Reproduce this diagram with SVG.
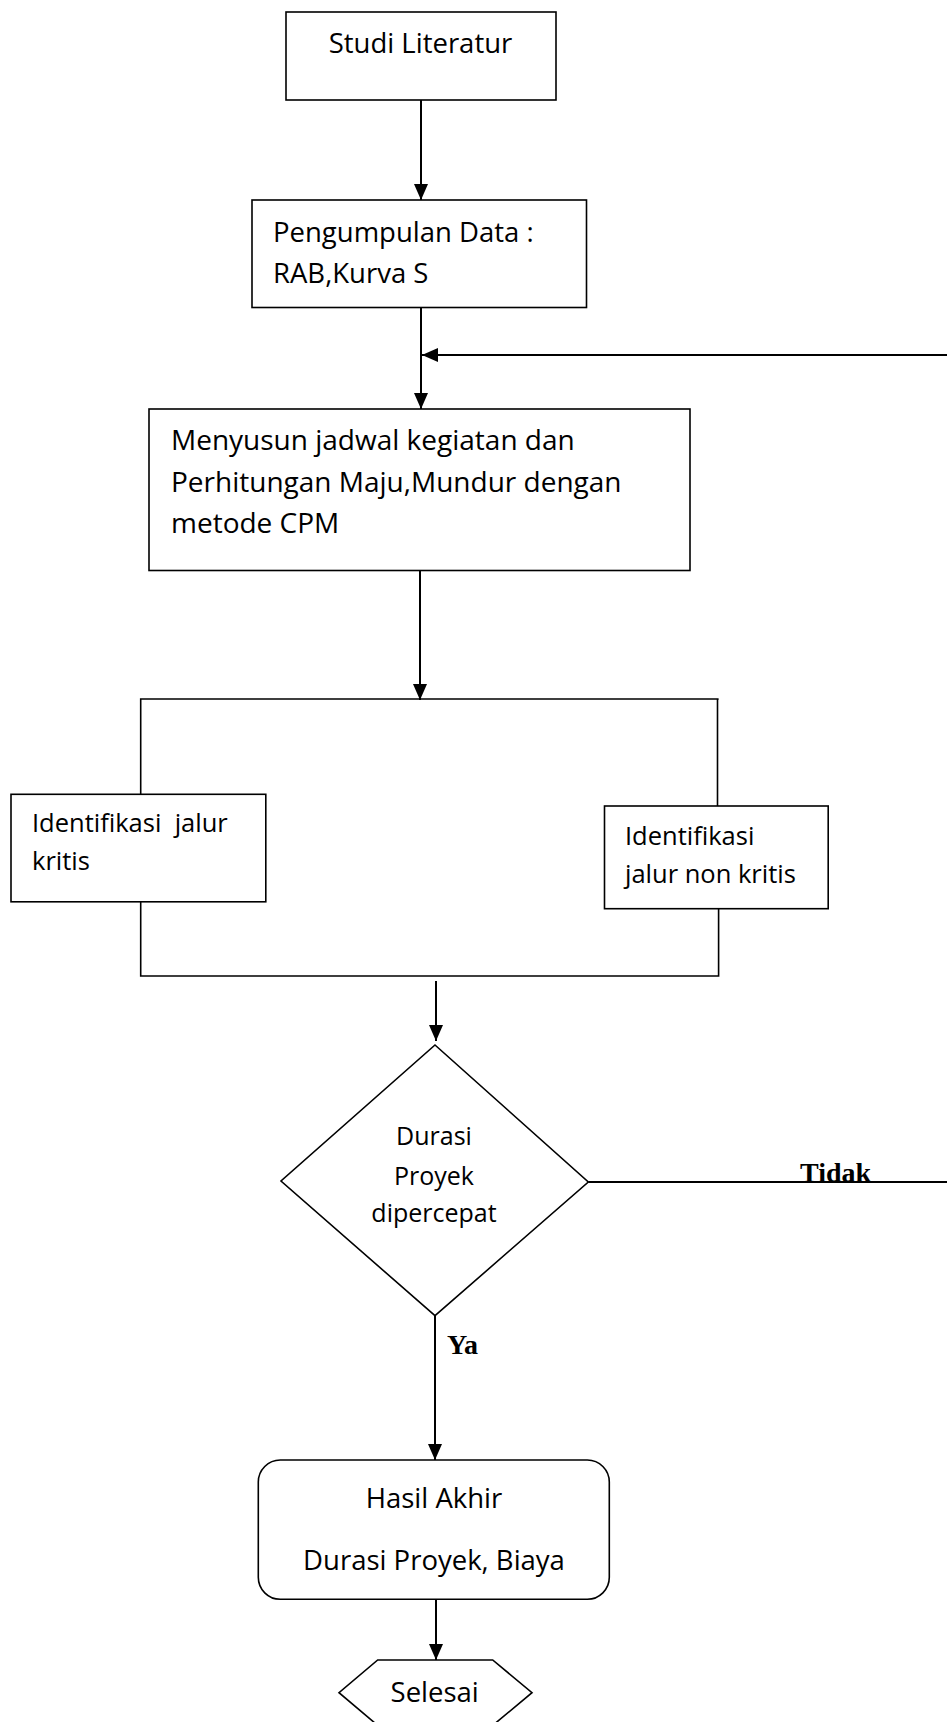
<svg xmlns="http://www.w3.org/2000/svg" width="947" height="1722" viewBox="0 0 947 1722">
<style>
.box{fill:#fff;stroke:#000;stroke-width:1.6}
.t{font-family:"Open Sans","Noto Sans",sans-serif;font-size:27.5px;fill:#000}
.m{font-family:"Open Sans","Noto Sans",sans-serif;font-size:28px;fill:#000}
.s{font-family:"Open Sans","Noto Sans",sans-serif;font-size:25px;fill:#000}
.k{font-family:"Open Sans","Noto Sans",sans-serif;font-size:25.5px;fill:#000}
.b{font-family:"Liberation Serif",serif;font-size:28px;font-weight:bold;fill:#000}
.c{fill:none;stroke:#000;stroke-width:2}
.j{fill:none;stroke:#000;stroke-width:1.6}
</style>
<defs>
<marker id="ah" markerUnits="userSpaceOnUse" markerWidth="17" markerHeight="15" refX="16" refY="7" orient="auto">
<path d="M0,0 L16,7 L0,14 z" fill="#000"/>
</marker>
</defs>
<rect width="947" height="1722" fill="#fff"/>
<g id="connectors">
<line class="c" x1="421" y1="100" x2="421" y2="200" marker-end="url(#ah)"/>
<line class="c" x1="421" y1="307" x2="421" y2="409" marker-end="url(#ah)"/>
<line class="c" x1="947" y1="355" x2="422" y2="355" marker-end="url(#ah)"/>
<line class="c" x1="420" y1="570" x2="420" y2="700" marker-end="url(#ah)"/>
<polyline class="j" points="140.7,794 140.7,699 718.6,699"/>
<line class="j" x1="717.5" y1="699" x2="717.5" y2="806"/>
<polyline class="j" points="140.7,902 140.7,976 718.6,976 718.6,908.7"/>
<line class="c" x1="436" y1="981" x2="436" y2="1041" marker-end="url(#ah)"/>
<line class="c" x1="588.3" y1="1182" x2="947" y2="1182"/>
<line class="c" x1="435" y1="1315.7" x2="435" y2="1460" marker-end="url(#ah)"/>
<line class="c" x1="436" y1="1599" x2="436" y2="1660" marker-end="url(#ah)"/>
<text class="b" x="800" y="1181.5">Tidak</text>
<text class="b" x="447" y="1354">Ya</text>
</g>
<g id="studi">
<rect class="box" x="286" y="12" width="270" height="88"/>
<text class="t" x="420.5" y="53" text-anchor="middle">Studi Literatur</text>
</g>
<g id="pengumpulan">
<rect class="box" x="252" y="200" width="334.5" height="107.5"/>
<text class="t" x="273" y="241.7">Pengumpulan Data :</text>
<text class="t" x="273" y="283">RAB,Kurva S</text>
</g>
<g id="menyusun">
<rect class="box" x="149" y="409" width="541" height="161.5"/>
<text class="m" x="171" y="450">Menyusun jadwal kegiatan dan</text>
<text class="m" x="171" y="491.7">Perhitungan Maju,Mundur dengan</text>
<text class="m" x="171" y="533.3">metode CPM</text>
</g>
<g id="kritis">
<rect class="box" x="11" y="794.3" width="254.8" height="107.5"/>
<text class="k" x="32" y="831.7" xml:space="preserve">Identifikasi  jalur</text>
<text class="k" x="32" y="870">kritis</text>
</g>
<g id="nonkritis">
<rect class="box" x="604.5" y="806" width="223.7" height="102.7"/>
<text class="k" x="625" y="845">Identifikasi</text>
<text class="k" x="625" y="882.7">jalur non kritis</text>
</g>
<g id="keputusan">
<polygon class="box" points="435,1045 588.3,1182 435,1315.7 281,1181"/>
<text class="s" x="434" y="1145" text-anchor="middle">Durasi</text>
<text class="s" x="434" y="1185" text-anchor="middle">Proyek</text>
<text class="s" x="434" y="1221.7" text-anchor="middle">dipercepat</text>
</g>
<g id="hasil">
<rect class="box" x="258.3" y="1460" width="351" height="139.3" rx="22" ry="22"/>
<text class="t" x="434" y="1507.7" text-anchor="middle">Hasil Akhir</text>
<text class="t" x="434" y="1570" text-anchor="middle">Durasi Proyek, Biaya</text>
</g>
<g id="selesai">
<polygon class="box" points="377.7,1660 492.7,1660 532,1692.7 492.7,1725.4 377.7,1725.4 339,1692.7"/>
<text class="t" x="434.7" y="1702" text-anchor="middle">Selesai</text>
</g>
</svg>
